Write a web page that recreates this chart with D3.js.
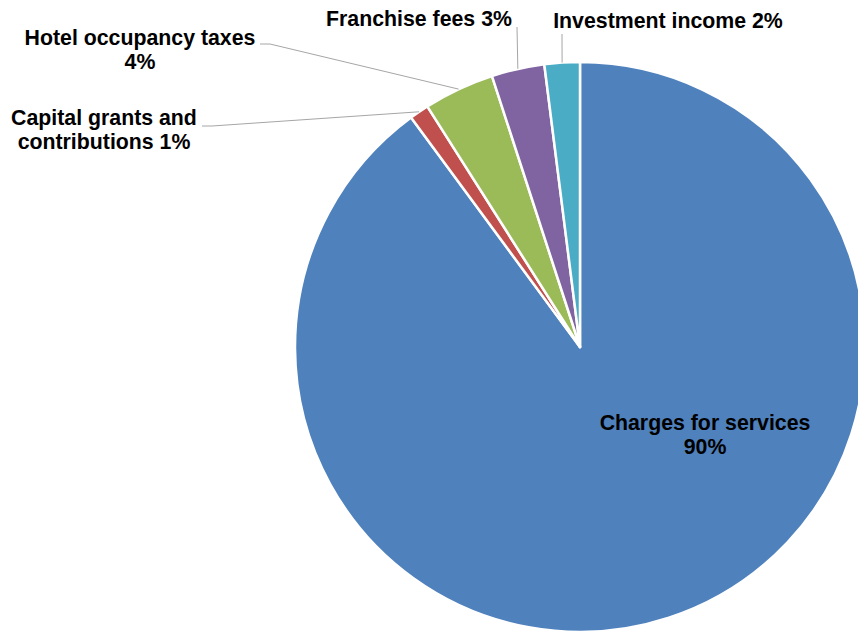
<!DOCTYPE html>
<html>
<head>
<meta charset="utf-8">
<script src="https://cdn.jsdelivr.net/npm/d3@7"></script>
<style>
  body { margin: 0; background: #fff; }
  svg { display: block; }
  text { font-family: "Liberation Sans", Arial, sans-serif; font-weight: bold; fill: #000; }
</style>
</head>
<body>
<div id="chart"></div>
<script>
// data: share of revenue, in percent
var categories = ['Charges for services', 'Capital grants and contributions', 'Hotel occupancy taxes', 'Franchise fees', 'Investment income']
var values     = [89.9, 1.1, 4.0, 3.0, 2.0]
var colors     = ['#4f81bd', '#c0504d', '#9bbb59', '#8064a2', '#4bacc6']

// label layout: text lines, anchor (centre x, first baseline), leader start
var labelLines = [
  ['Charges for services', '90%'],
  ['Capital grants and', 'contributions 1%'],
  ['Hotel occupancy taxes', '4%'],
  ['Franchise fees 3%'],
  ['Investment income 2%']
]
var labelAnchor = [[705, 430], [104, 125], [140, 45], [419, 26], [668, 28]]
var leaderFrom  = [null, [[202, 126], [212, 126]], [[260, 44], [270, 44]], [[517, 27]], [[562, 34]]]

var width = 858, height = 631
var cx = 580, cy = 347, radius = 285
var fontSize = 21.3, lineGap = 24

var svg = d3.select('#chart')
  .append('svg').attr('width', width).attr('height', height)

var g = svg.append('g').attr('transform', 'translate(' + cx + ',' + cy + ')')

var pie = d3.pie().sort(null).value(function(d) { return d })
var arcs = pie(values)
var arc = d3.arc().innerRadius(0).outerRadius(radius)

g.selectAll('path.slice')
  .data(arcs)
  .enter().append('path')
  .attr('class', 'slice')
  .attr('d', arc)
  .attr('fill', function(d, i) { return colors[i] })
  .attr('stroke', '#fff')
  .attr('stroke-width', 2.5)
  .attr('stroke-linejoin', 'round')

// leader lines from label to the middle of the slice edge
var line = d3.line()
arcs.forEach(function(d, i) {
  if (!leaderFrom[i]) return
  var mid = (d.startAngle + d.endAngle) / 2
  var p = d3.pointRadial(mid, radius)
  var pts = leaderFrom[i].concat([[p[0] + cx, p[1] + cy]])
  svg.append('path')
    .attr('d', line(pts))
    .attr('fill', 'none')
    .attr('stroke', '#a6a6a6')
    .attr('stroke-width', 1)
})

// labels
labelLines.forEach(function(lines, i) {
  var t = svg.append('text')
    .attr('x', labelAnchor[i][0])
    .attr('y', labelAnchor[i][1])
    .attr('text-anchor', 'middle')
    .style('font-size', fontSize + 'px')
  lines.forEach(function(s, j) {
    t.append('tspan')
      .attr('x', labelAnchor[i][0])
      .attr('dy', j === 0 ? 0 : lineGap)
      .text(s)
  })
})
</script>
</body>
</html>
